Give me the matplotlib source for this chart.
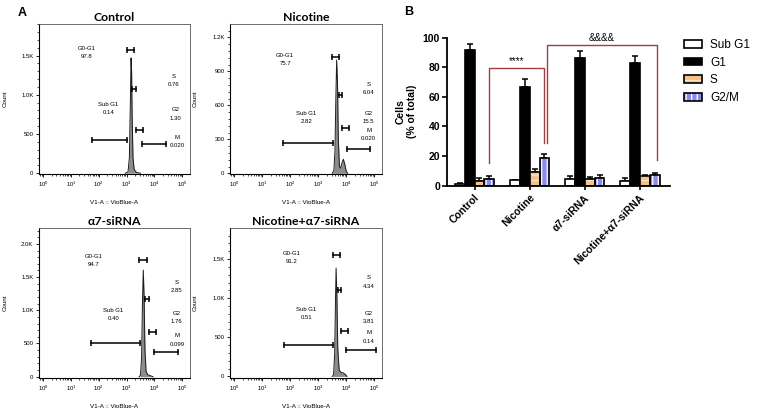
"""Cell-cycle figure: A = flow histograms (4 conditions), B = phase distribution bars."""

import numpy as np
import matplotlib
matplotlib.use("Agg")
import matplotlib.pyplot as plt
from matplotlib.patches import Patch
from matplotlib.ticker import LogLocator, NullFormatter, MultipleLocator

plt.rcParams["font.family"] = ["Liberation Sans", "DejaVu Sans"]
plt.rcParams["hatch.linewidth"] = 0.9

# ---- panel A data -------------------------------------------------------
titles = ["Control", "Nicotine", "α7-siRNA", "Nicotine+α7-siRNA"]

# histogram outlines, log10(V1-A) vs count
ctrl_logx = [2.95, 3.05, 3.10, 3.13, 3.16, 3.18, 3.20, 3.23, 3.27, 3.35, 3.50]
ctrl_cnt = [0, 15, 200, 800, 1470, 1300, 700, 200, 50, 10, 0]
nic_logx = [3.50, 3.56, 3.60, 3.63, 3.66, 3.69, 3.72, 3.76, 3.80, 3.86, 3.90, 3.95, 4.00, 4.05]
nic_cnt = [0, 20, 200, 650, 1000, 800, 300, 60, 45, 100, 124, 80, 20, 0]
a7_logx = [3.45, 3.50, 3.54, 3.57, 3.60, 3.63, 3.66, 3.70, 3.76, 3.85, 3.95]
a7_cnt = [0, 20, 300, 1100, 1605, 1200, 400, 80, 30, 15, 0]
na_logx = [3.50, 3.55, 3.59, 3.62, 3.64, 3.67, 3.70, 3.75, 3.82, 3.90, 3.97, 4.03]
na_cnt = [0, 20, 300, 1000, 1385, 1000, 350, 80, 50, 45, 25, 0]
hist_logx = [ctrl_logx, nic_logx, a7_logx, na_logx]
hist_cnt = [ctrl_cnt, nic_cnt, a7_cnt, na_cnt]

# gates: (log x0, log x1, count) for Sub G1, G0-G1, S, G2, M
gates = [
    [(1.74, 3.03, 425), (3.03, 3.27, 1572), (3.21, 3.35, 1070), (3.35, 3.59, 552), (3.57, 4.40, 370)],
    [(1.73, 3.54, 265), (3.51, 3.76, 1024), (3.76, 3.84, 691), (3.84, 4.09, 397), (4.02, 4.85, 215)],
    [(1.73, 3.49, 500), (3.46, 3.73, 1765), (3.67, 3.80, 1175), (3.80, 4.04, 680), (3.98, 4.85, 365)],
    [(1.79, 3.54, 396), (3.52, 3.77, 1556), (3.70, 3.83, 1100), (3.83, 4.07, 584), (3.99, 5.06, 332)],
]

gate_names = ["Sub G1", "G0-G1", "S", "G2", "M"]
gate_pct = [
    ["0.14", "97.8", "0.76", "1.30", "0.020"],
    ["2.82", "75.7", "6.04", "15.5", "0.020"],
    ["0.40", "94.7", "2.85", "1.76", "0.099"],
    ["0.51", "91.2", "4.34", "3.81", "0.14"],
]
# label anchor (axes fraction) of each gate name; value goes just below
label_pos = [
    [(0.458, 0.464), (0.314, 0.838), (0.889, 0.649), (0.905, 0.427), (0.916, 0.242)],
    [(0.501, 0.404), (0.363, 0.793), (0.912, 0.598), (0.912, 0.404), (0.912, 0.293)],
    [(0.491, 0.451), (0.365, 0.812), (0.912, 0.635), (0.912, 0.429), (0.916, 0.281)],
    [(0.501, 0.456), (0.407, 0.833), (0.912, 0.667), (0.912, 0.433), (0.912, 0.300)],
]

ytick_vals = [[0, 500, 1000, 1500], [0, 300, 600, 900, 1200],
              [0, 500, 1000, 1500, 2000], [0, 500, 1000, 1500]]
ytick_lbls = [["0", "500", "1.0K", "1.5K"], ["0", "300", "600", "900", "1.2K"],
              ["0", "500", "1.0K", "1.5K", "2.0K"], ["0", "500", "1.0K", "1.5K"]]
ylims = [(-10, 1903), (-6, 1318), (-20, 2240), (-20, 1897)]

# ---- panel B data -------------------------------------------------------
groups = ["Control", "Nicotine", "α7-siRNA", "Nicotine+α7-siRNA"]
phases = ["Sub G1", "G1", "S", "G2/M"]
sub_g1 = [1.2, 3.6, 4.2, 3.3]
sub_g1_err = [0.3, 0.3, 2.5, 2.0]
g1 = [91.7, 66.9, 86.1, 82.7]
g1_err = [3.8, 5.4, 5.0, 5.0]
s_ph = [3.3, 9.5, 4.6, 6.5]
s_err = [1.9, 1.5, 1.0, 1.0]
g2m = [4.7, 18.5, 5.0, 7.2]
g2m_err = [1.9, 3.0, 2.0, 1.4]

RED = "#9E4043"


def hist_panel(fig, rect, i):
    ax = fig.add_axes(rect)
    x = 10 ** np.array(hist_logx[i])
    ax.fill_between(x, hist_cnt[i], color="#8c8c8c", lw=0)
    ax.plot(x, hist_cnt[i], color="#1a1a1a", lw=0.7)
    for (x0, x1, y) in gates[i]:
        ax.plot([10 ** x0, 10 ** x1], [y, y], color="black", lw=1.1,
                marker="|", ms=4.5, mew=1.1)
    for (fx, fy), nm, pc in zip(label_pos[i], gate_names, gate_pct[i]):
        ax.text(fx, fy, nm, transform=ax.transAxes, ha="center", va="center", fontsize=4.3)
        ax.text(fx, fy - 0.055, pc, transform=ax.transAxes, ha="center", va="center", fontsize=4.3)
    ax.set_xscale("log")
    ax.set_xlim(10 ** -0.15, 10 ** 5.28)
    ax.set_ylim(*ylims[i])
    ax.set_xticks([10 ** k for k in range(6)])
    ax.xaxis.set_minor_locator(LogLocator(base=10, subs=np.arange(2, 10), numticks=100))
    ax.xaxis.set_minor_formatter(NullFormatter())
    ax.set_yticks(ytick_vals[i])
    ax.set_yticklabels(ytick_lbls[i])
    ax.yaxis.set_minor_locator(MultipleLocator(ytick_vals[i][1] / 5))
    ax.tick_params(labelsize=4.3, length=2.5, width=0.6, pad=1.5)
    ax.tick_params(which="minor", length=1.3, width=0.5)
    for sp in ["top", "right"]:
        ax.spines[sp].set_color("#555555")
        ax.spines[sp].set_linewidth(0.6)
    for sp in ["left", "bottom"]:
        ax.spines[sp].set_linewidth(0.8)
    ax.set_ylabel("Count", fontsize=4.5)
    ax.yaxis.set_label_coords(-0.21, 0.5)
    ax.set_xlabel("V1-A :: VioBlue-A", fontsize=4.5)
    ax.xaxis.set_label_coords(0.5, -0.175)
    ax.set_title(titles[i], fontsize=8.8, fontweight="bold", pad=2.5,
                 family=["Lato", "DejaVu Sans"])
    return ax


fig = plt.figure(figsize=(7.61, 4.09), dpi=100)
W, H = 761, 409


def px_rect(l, t, r, b):
    return [l / W, (H - b) / H, (r - l) / W, (b - t) / H]


hist_boxes = [(39, 24, 190, 174), (230, 24, 382, 174), (39, 228, 190, 378), (230, 228, 382, 378)]
for i, bx in enumerate(hist_boxes):
    hist_panel(fig, px_rect(*bx), i)

fig.text(22 / W, 1 - 13 / H, "A", fontsize=9, fontweight="bold", ha="center", va="center")
fig.text(409 / W, 1 - 12 / H, "B", fontsize=9, fontweight="bold", ha="center", va="center")

# ---- panel B -------------------------------------------------------------
axb = fig.add_axes(px_rect(447, 37.7, 670, 185.7))
xg = np.arange(len(groups))
bw = 0.18
offs = [-0.27, -0.09, 0.09, 0.27]
vals = [sub_g1, g1, s_ph, g2m]
errs = [sub_g1_err, g1_err, s_err, g2m_err]
faces = ["white", "black", "#F6C28C", "#8B8BEE"]
stripe = [None, None, "#FBE3C6", "white"]
hatches = [None, None, "---", "|||"]

for k in range(4):
    xs = xg + offs[k]
    axb.errorbar(xs, vals[k], yerr=[np.zeros(4), errs[k]], fmt="none",
                 ecolor="black", elinewidth=1.1, capsize=2.5, capthick=1.1, zorder=1)
    if hatches[k]:
        axb.bar(xs, vals[k], bw, facecolor=faces[k], edgecolor=stripe[k],
                hatch=hatches[k], lw=0, zorder=2)
        axb.bar(xs, vals[k], bw, facecolor="none", edgecolor="black", lw=1.2, zorder=3)
    else:
        axb.bar(xs, vals[k], bw, facecolor=faces[k], edgecolor="black", lw=1.2, zorder=2)

axb.set_xlim(-0.5, 3.55)
axb.set_ylim(0, 100)
axb.set_yticks(range(0, 101, 20))
axb.set_xticks(xg)
axb.set_xticklabels(groups, rotation=45, ha="right", rotation_mode="anchor")
for lbl in axb.get_xticklabels() + axb.get_yticklabels():
    lbl.set_fontweight("bold")
    lbl.set_fontsize(7.5)
axb.tick_params(axis="x", length=3, width=1.2, pad=2)
axb.tick_params(axis="y", length=3.5, width=1.2, pad=1.5)
for sp in ["top", "right"]:
    axb.spines[sp].set_visible(False)
for sp in ["left", "bottom"]:
    axb.spines[sp].set_linewidth(1.3)
axb.set_ylabel("Cells\n(% of total)", fontsize=7.5, fontweight="bold", linespacing=1.1)
axb.yaxis.set_label_coords(-0.135, 0.5)

# significance brackets
b1 = [(0.27, 15), (0.27, 79.3), (1.27, 79.3), (1.27, 28.7)]
b2 = [(1.31, 28.7), (1.31, 95), (3.31, 95), (3.31, 17.3)]
for br in (b1, b2):
    axb.plot([p[0] for p in br], [p[1] for p in br], color=RED, lw=1.0, clip_on=False)
axb.text(0.77, 81, "****", ha="center", va="bottom", fontsize=7)
axb.text(2.31, 96.5, "&&&&", ha="center", va="bottom", fontsize=7)

handles = []
for k in range(4):
    if hatches[k]:
        handles.append((Patch(facecolor=faces[k], edgecolor=stripe[k], hatch=hatches[k], lw=0),
                        Patch(facecolor="none", edgecolor="black", lw=1.2)))
    else:
        handles.append(Patch(facecolor=faces[k], edgecolor="black", lw=1.2))
fig.legend(handles, phases, loc="upper left", bbox_to_anchor=(684 / W, 1 - 39 / H),
           frameon=False, fontsize=8.5, handlelength=1.5, handleheight=0.6,
           handletextpad=0.7, labelspacing=0.48, borderaxespad=0, borderpad=0)

fig.savefig("out.png", dpi=100)
